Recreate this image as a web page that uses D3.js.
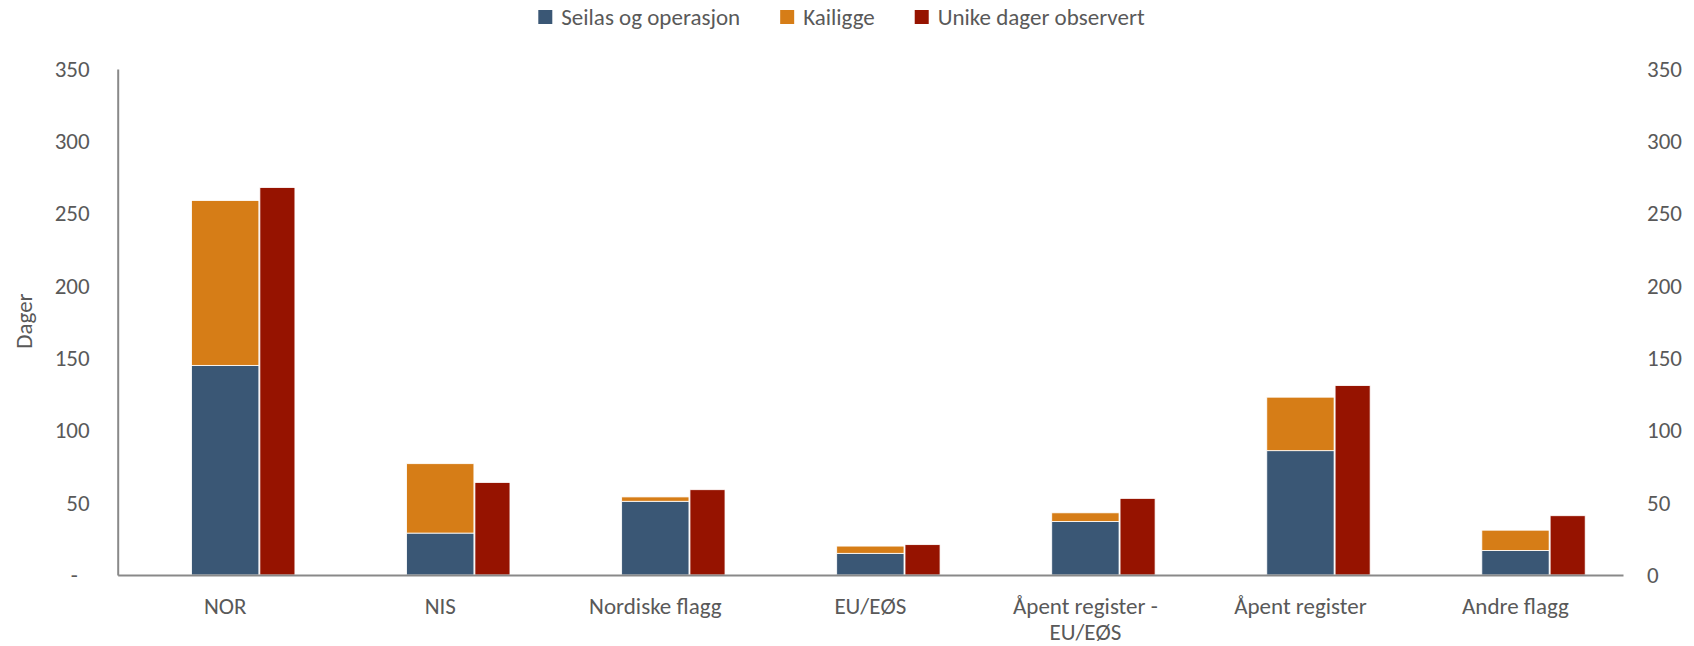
<!DOCTYPE html>
<html>
<head>
<meta charset="utf-8">
<script src="https://cdn.jsdelivr.net/npm/d3@7"></script>
<style>
  html, body { margin: 0; padding: 0; background: #fff; }
  svg { display: block; }
  text { font-family: Carlito, Calibri, Lato, sans-serif; fill: #595959; }
</style>
</head>
<body>
<svg id="chart" width="1694" height="646"></svg>
<script>
// ---- data ----
const categories = ["NOR", "NIS", "Nordiske flagg", "EU/EØS", "Åpent register - EU/EØS", "Åpent register", "Andre flagg"];
const seilas = [145, 29, 51, 15, 37, 86, 17];
const kailigge = [114, 48, 3, 5, 6, 37, 14];
const unikeDager = [268, 64, 59, 21, 53, 131, 41];
const yTicks = [0, 50, 100, 150, 200, 250, 300, 350];
const seriesNames = ["Seilas og operasjon", "Kailigge", "Unike dager observert"];
const seriesColors = ["#3a5775", "#d67d17", "#961300"];

// ---- layout ----
const W = 1694, H = 646;
const m = { left: 117.7, right: W - 1623, top: 69, bottom: H - 575 };
const fontSize = 23;
const svg = d3.select("#chart");

const x = d3.scaleBand().domain(categories).range([m.left, W - m.right]).paddingInner(0).paddingOuter(0);
const y = d3.scaleLinear().domain([0, 350]).range([H - m.bottom, m.top]);

const stackW = x.bandwidth() * 0.313;
const redW = x.bandwidth() * 0.163;

const rows = categories.map((c, i) => ({ cat: c, seilas: seilas[i], kailigge: kailigge[i], unike: unikeDager[i] }));
const stack = d3.stack().keys(["seilas", "kailigge"])(rows);

// stacked bars
svg.append("g").selectAll("g").data(stack).join("g")
  .attr("fill", (d, i) => seriesColors[i])
  .selectAll("rect").data(d => d).join("rect")
  .attr("x", d => x(d.data.cat) + x.bandwidth() / 2 - stackW / 2)
  .attr("width", stackW)
  .attr("y", d => y(d[1]))
  .attr("height", d => y(d[0]) - y(d[1]))
  .attr("stroke", "#ffffff").attr("stroke-width", 0.8);

// unique days bars
svg.append("g").selectAll("rect").data(rows).join("rect")
  .attr("fill", seriesColors[2])
  .attr("x", d => x(d.cat) + x.bandwidth() / 2 + stackW / 2 + 1)
  .attr("width", redW)
  .attr("y", d => y(d.unike))
  .attr("height", d => y(0) - y(d.unike))
  .attr("stroke", "#ffffff").attr("stroke-width", 0.8);

// left axis
const axisColor = "#898989";
const yLeft = svg.append("g").attr("transform", `translate(${m.left},0)`)
  .call(d3.axisLeft(y).tickValues(yTicks).tickSize(0).tickPadding(28)
    .tickFormat(d => d === 0 ? "-" : d3.format("d")(d)));
yLeft.select(".domain").attr("stroke", axisColor).attr("stroke-width", 2);
yLeft.selectAll("text").attr("font-size", fontSize).attr("font-family", null).style("fill", "#595959")
  .attr("dx", d => d === 0 ? -12 : 0);

// right axis (labels only)
const yRight = svg.append("g").attr("transform", `translate(${W - m.right},0)`)
  .call(d3.axisRight(y).tickValues(yTicks).tickSize(0).tickPadding(24).tickFormat(d3.format("d")));
yRight.select(".domain").remove();
yRight.selectAll("text").attr("font-size", fontSize).attr("font-family", null).style("fill", "#595959");

// x axis baseline + labels
const xAxis = svg.append("g").attr("transform", `translate(0,${y(0)})`)
  .call(d3.axisBottom(x).tickSize(0).tickPadding(0));
xAxis.select(".domain").attr("stroke", axisColor).attr("stroke-width", 2);
xAxis.selectAll(".tick text").remove();
xAxis.selectAll(".tick").each(function (d) {
  const t = d3.select(this).append("text")
    .attr("text-anchor", "middle").attr("font-size", fontSize).style("fill", "#595959");
  const lines = d === "Åpent register - EU/EØS" ? ["Åpent register -", "EU/EØS"] : [d];
  lines.forEach((ln, k) => t.append("tspan").attr("x", 0).attr("y", 39 + k * 26).text(ln));
});

// y axis title
svg.append("text")
  .attr("transform", `translate(32,321) rotate(-90)`)
  .attr("text-anchor", "middle").attr("font-size", fontSize)
  .text("Dager");

// legend
const legend = svg.append("g");
const sq = 14, gapText = 9, gapItem = 40;
let cx = 0;
seriesNames.forEach((name, i) => {
  const g = legend.append("g");
  g.append("rect").attr("x", 0).attr("y", 10).attr("width", sq).attr("height", sq).attr("fill", seriesColors[i]);
  const t = g.append("text").attr("x", sq + gapText).attr("y", 25).attr("font-size", fontSize).text(name);
  const w = sq + gapText + t.node().getComputedTextLength();
  g.attr("transform", `translate(${cx},0)`);
  cx += w + gapItem;
});
const totalW = cx - gapItem;
legend.attr("transform", `translate(${841.5 - totalW / 2},0)`);
</script>
</body>
</html>
